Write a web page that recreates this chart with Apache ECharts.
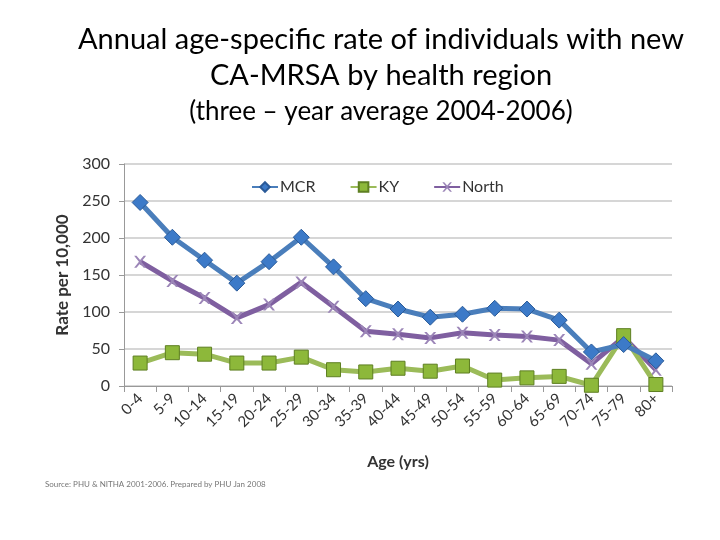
<!DOCTYPE html>
<html><head><meta charset="utf-8">
<script src="https://cdn.jsdelivr.net/npm/echarts@6/dist/echarts.min.js"></script>
<style>html,body{margin:0;padding:0;background:#fff}#c{width:720px;height:540px}</style>
</head><body><div id="c"></div>
<script>
const categories = ['0-4','5-9','10-14','15-19','20-24','25-29','30-34','35-39','40-44','45-49','50-54','55-59','60-64','65-69','70-74','75-79','80+'];
const mcr   = [248,201,170,139,168,201,161,118,104,93,97,105,104,89,46,56,34];
const ky    = [31,45,43,31,31,39,22,19,24,20,27,8,11,13,1,68,2];
const north = [168,142,119,92,110,140,107,74,70,65,72,69,67,62,30,66,22];
const yTicks = [0,50,100,150,200,250,300];

const xPath = 'path://M0,0 L2,0 L5,3.5 L8,0 L10,0 L6,5 L10,10 L8,10 L5,6.5 L2,10 L0,10 L4,5 Z';
const font = 'Lato, "Open Sans", sans-serif';

const chart = echarts.init(document.getElementById('c'));
chart.setOption({
  animation: false,
  title: [
    {text: 'Annual age-specific rate of individuals with new\nCA-MRSA by health region', left: 376, textAlign: 'center', top: 17,
     textStyle: {fontFamily: font, fontSize: 29, fontWeight: 'normal', color: '#000', lineHeight: 36}},
    {text: '(three – year average 2004-2006)', left: 376, textAlign: 'center', top: 92,
     textStyle: {fontFamily: font, fontSize: 26, fontWeight: 'normal', color: '#000', lineHeight: 30}},
    {text: 'Source: PHU & NITHA 2001-2006. Prepared by PHU Jan 2008', left: 40, top: 475,
     textStyle: {fontFamily: font, fontSize: 8, fontWeight: 'normal', color: '#777'}}
  ],
  legend: {
    top: 174, left: 246, itemGap: 34, itemWidth: 26, itemHeight: 12,
    textStyle: {fontFamily: font, fontSize: 16, color: '#333', padding: [0,0,0,-3]},
    data: ['MCR','KY','North']
  },
  grid: {left: 124, right: 48, top: 164, bottom: 154},
  xAxis: {
    type: 'category', data: categories, boundaryGap: true,
    name: 'Age (yrs)', nameLocation: 'middle', nameGap: 68,
    nameTextStyle: {fontFamily: font, fontSize: 16, fontWeight: 'bold', color: '#333'},
    axisLine: {lineStyle: {color: '#999'}},
    axisTick: {show: true, alignWithLabel: false, length: 6, lineStyle: {color: '#999'}},
    axisLabel: {rotate: 45, interval: 0, fontFamily: font, fontSize: 15, color: '#333', margin: 10}
  },
  yAxis: {
    type: 'value', min: 0, max: 300, interval: 50,
    name: 'Rate per 10,000', nameLocation: 'middle', nameGap: 46,
    nameTextStyle: {fontFamily: font, fontSize: 17, fontWeight: 'bold', color: '#333'},
    axisLine: {show: true, lineStyle: {color: '#999'}},
    axisTick: {show: true, length: 5, lineStyle: {color: '#999'}},
    axisLabel: {fontFamily: font, fontSize: 16, color: '#333', margin: 14,
      formatter: v => yTicks.includes(v) ? String(v) : ''},
    splitLine: {lineStyle: {color: '#c8c8c8', width: 1.5}}
  },
  series: [
    {name: 'North', type: 'line', data: north, z: 2, symbol: xPath, symbolSize: 12,
     lineStyle: {color: '#7F5FA0', width: 5}, itemStyle: {color: '#9C86B8', borderColor: '#7F5FA0', borderWidth: 0}},
    {name: 'KY', type: 'line', data: ky, z: 3, symbol: 'rect', symbolSize: 14,
     lineStyle: {color: '#9BBB59', width: 5}, itemStyle: {color: '#8DB83A', borderColor: '#5E7F22', borderWidth: 1}},
    {name: 'MCR', type: 'line', data: mcr, z: 4, symbol: 'diamond', symbolSize: 16,
     lineStyle: {color: '#4A7EBB', width: 5}, itemStyle: {color: '#3C7AC8', borderColor: '#2A5A98', borderWidth: 1}}
  ]
});
</script></body></html>
